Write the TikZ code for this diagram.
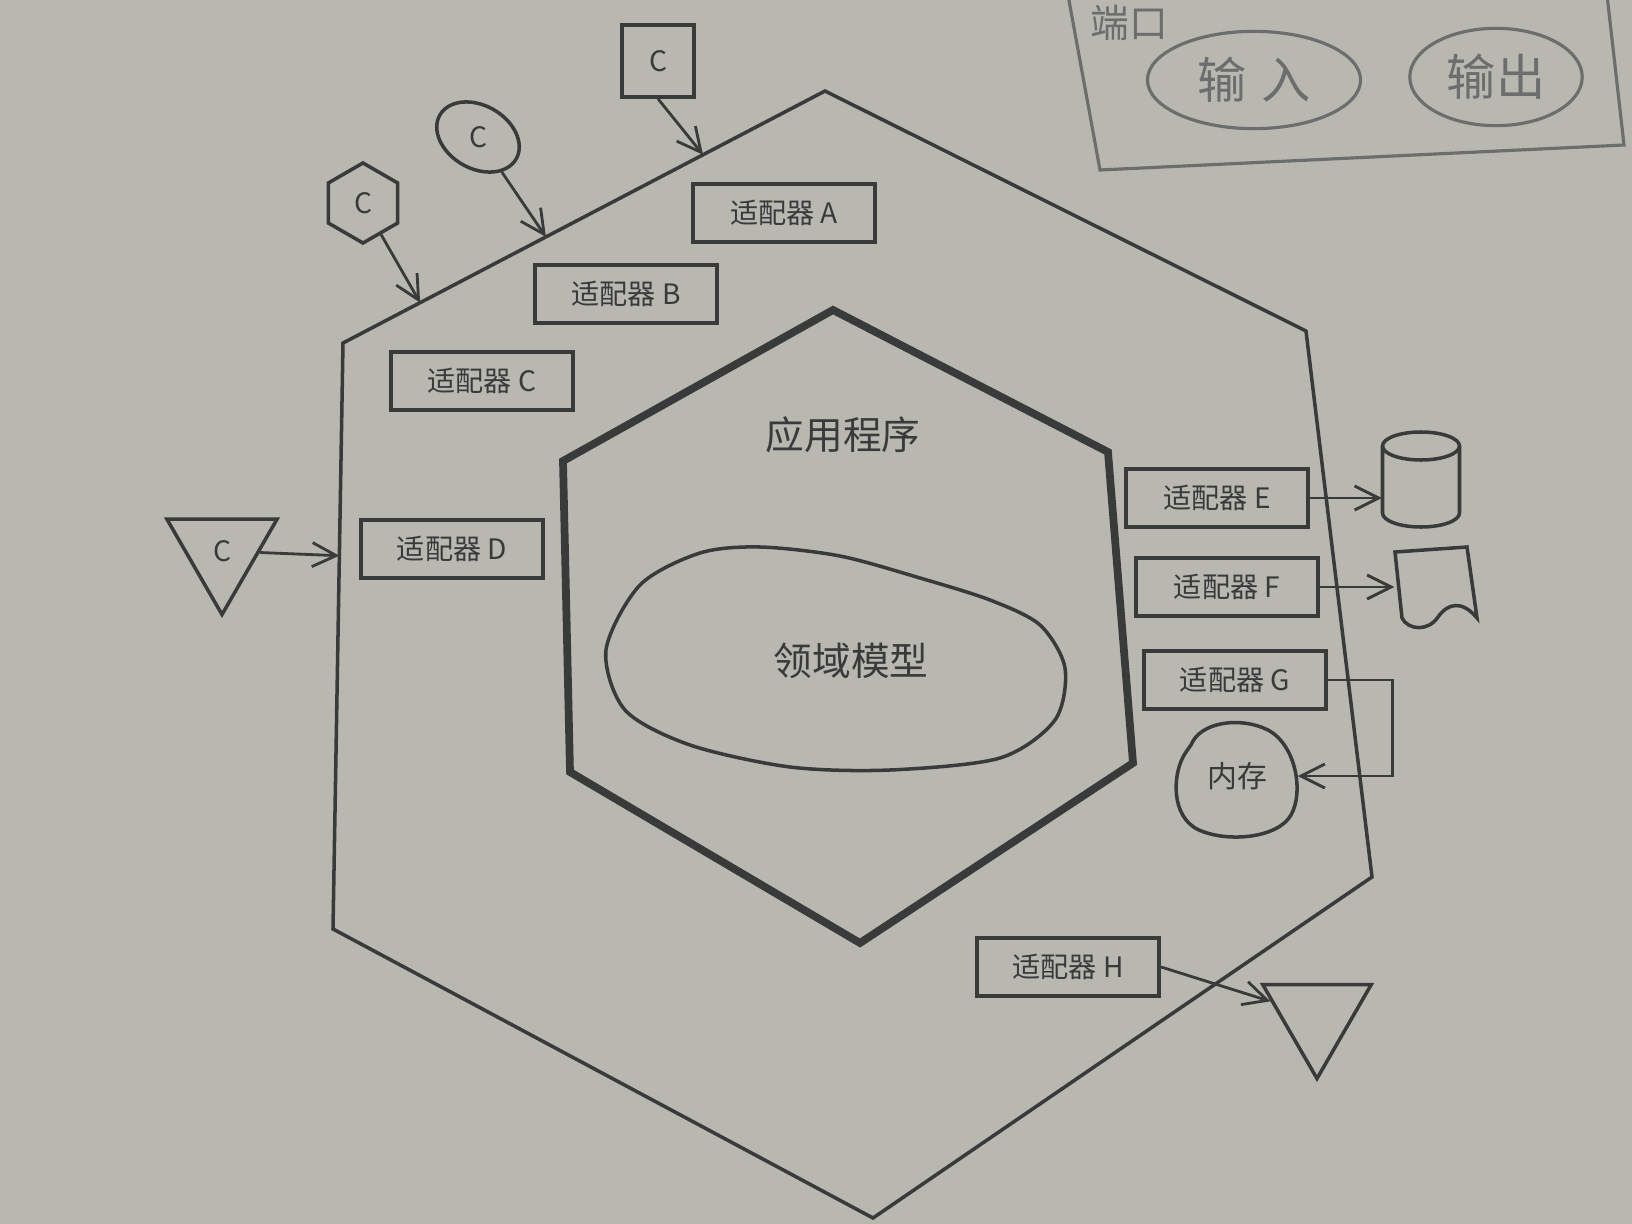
\documentclass[tikz,border=0pt]{standalone}
\usepackage{fontspec}
\newfontfamily\cjk{Noto Sans CJK SC}
\usepackage{tikz}
\usetikzlibrary{shapes.geometric, arrows.meta, positioning, calc}
\usepackage{xcolor}
\definecolor{PaperGrey}{HTML}{B8B7B0}
\definecolor{InkGrey}{HTML}{393B3B}
\definecolor{PencilGrey}{HTML}{6B6E6D}
\tikzset{
    % Node styles
    adapterbox/.style={
        rectangle,
        draw=InkGrey,
        line width=1.2pt,
        minimum width=1.82cm,
        minimum height=0.58cm,
        inner sep=0pt,
        text=InkGrey,
        font=\cjk\fontsize{8}{9}\selectfont
    },
    clientshape/.style={
        draw=InkGrey,
        line width=1pt,
        inner sep=0pt,
        text=InkGrey,
        font=\cjk\fontsize{8}{9}\selectfont
    },
    bigtext/.style={
        text=InkGrey,
        font=\cjk\fontsize{11}{13}\selectfont
    },
    % Arrow styles
    portarrow/.style={
        -{Straight Barb[length=2.4mm,width=2.4mm]},
        line width=0.8pt,
        InkGrey
    },
    % Hexagon and outline styles
    outerhex/.style={draw=InkGrey, line width=1pt, line join=miter},
    innerhex/.style={draw=InkGrey, line width=2.2pt, line join=miter},
    outline/.style={draw=InkGrey, line width=1pt},
    % Pencil note styles
    pencil/.style={draw=PencilGrey, line width=0.9pt},
    pencilnote/.style={text=PencilGrey, font=\cjk\fontsize{14}{16}\selectfont}
}

\begin{document}
\begin{tikzpicture}[x=0.01cm, y=-0.01cm]
    % Paper
    \fill[PaperGrey] (0,0) rectangle (1632,1224);
    \useasboundingbox (0,0) rectangle (1632,1224);

    % Outer hexagon
    \coordinate (oT) at (825,91);
    \coordinate (oUR) at (1306,331);
    \coordinate (oLR) at (1372,877);
    \coordinate (oB) at (873,1218);
    \coordinate (oLL) at (333,929);
    \coordinate (oUL) at (343,343);
    \draw[outerhex] (oT) -- (oUR) -- (oLR) -- (oB) -- (oLL) -- (oUL) -- cycle;

    % Inner hexagon
    \draw[innerhex] (833,310) -- (1108,452) -- (1133,763) -- (860,943) -- (570,772) -- (563,461) -- cycle;
    \node[bigtext] (app) at (843,435) {应用程序};

    % Domain model
    \draw[outline] plot[smooth cycle] coordinates {(606,650) (640,585) (700,553) (760,547) (840,556) (920,578) (990,600) (1040,625) (1065,668) (1055,720) (1000,758) (890,770) (790,767) (690,745) (625,710)};
    \node[bigtext] (domain) at (851,661) {领域模型};

    % Adapters
    \node[adapterbox] (adA) at (784,213) {适配器 A};
    \node[adapterbox] (adB) at (626,294) {适配器 B};
    \node[adapterbox] (adC) at (482,381) {适配器 C};
    \node[adapterbox] (adD) at (452,549) {适配器 D};
    \node[adapterbox] (adE) at (1217,498) {适配器 E};
    \node[adapterbox] (adF) at (1227,587) {适配器 F};
    \node[adapterbox] (adG) at (1235,680) {适配器 G};
    \node[adapterbox] (adH) at (1068,967) {适配器 H};

    % Clients
    \node[clientshape, rectangle, minimum size=0.72cm] (csq) at (658,61) {C};
    \node[clientshape, ellipse, minimum width=0.88cm, minimum height=0.63cm, rotate=-30] (cell) at (478,137) {};
    \node[clientshape, draw=none] (cellC) at (cell) {C};
    \node[clientshape, regular polygon, regular polygon sides=6, shape border rotate=30, minimum size=0.8cm] (chex) at (363,203) {C};
    \node[clientshape, regular polygon, regular polygon sides=3, shape border rotate=180, minimum size=1.27cm] (ctri) at (222,551) {C};

    % Ports on the outer hexagon
    \coordinate (pSq) at ($(oT)!0.253!(oUL)$);
    \coordinate (pEll) at ($(oT)!0.579!(oUL)$);
    \coordinate (pHex) at ($(oT)!0.840!(oUL)$);
    \coordinate (pTri) at ($(oUL)!0.363!(oLL)$);
    \draw[portarrow] (csq.south) -- (pSq);
    \draw[portarrow] (cell) -- (pEll);
    \draw[portarrow] (chex) -- (pHex);
    \draw[portarrow] (ctri) -- (pTri);

    % Database
    \node[minimum width=0.77cm, minimum height=0.95cm, inner sep=0pt] (db) at (1421,480) {};
    \draw[outline] (1421,446) ellipse [x radius=38.5, y radius=14];
    \draw[outline] (1382.5,446) -- (1382.5,513) arc[start angle=180, end angle=0, x radius=38.5, y radius=14] -- (1459.5,446);
    \draw[portarrow] (adE.east) -- (adE.east -| db.west);

    % Document
    \node[minimum width=0.8cm, minimum height=0.7cm, inner sep=0pt] (docF) at (1435,587) {};
    \draw[outline] (1395,552) -- (1467,547) -- (1477,618) .. controls (1462,600) and (1448,603) .. (1438,617) .. controls (1428,632) and (1408,630) .. (1402,618) -- cycle;
    \draw[portarrow] (adF.east) -- (adF.east -| docF.west);

    % Memory
    \node[text=InkGrey, font=\cjk\fontsize{8.5}{10}\selectfont, minimum width=1.2cm, minimum height=1.1cm, inner sep=0pt] (mem) at (1237,776) {内存};
    \draw[outline] (1191,745) .. controls (1200,722) and (1240,716) .. (1268,730) .. controls (1296,745) and (1304,792) .. (1291,815) .. controls (1278,838) and (1228,843) .. (1199,830) .. controls (1170,817) and (1172,772) .. (1186,752) -- cycle;
    \draw[portarrow] (adG.east) -- ++(64,0) |- (mem);

    % Output triangle
    \node[clientshape, regular polygon, regular polygon sides=3, shape border rotate=180, minimum size=1.25cm] (htri) at (1317,1016) {};
    \draw[portarrow] (adH.east) -- (htri);

    % Pencil note
    \draw[pencil] (1068,-5) -- (1100,170) -- (1624,145) -- (1607,-5);
    \node[pencil, pencilnote, ellipse, minimum width=2.13cm, minimum height=0.9cm] (notein) at (1254,80) {输\hspace{0.3em}入};
    \node[pencil, pencilnote, ellipse, minimum width=1.4cm, minimum height=0.9cm] (noteout) at (1496,77) {输出};
    \node[pencilnote, font=\cjk\fontsize{11}{13}\selectfont, anchor=north west, inner sep=0pt] (noteport) at (1090,4) {端口};
\end{tikzpicture}
\end{document}
